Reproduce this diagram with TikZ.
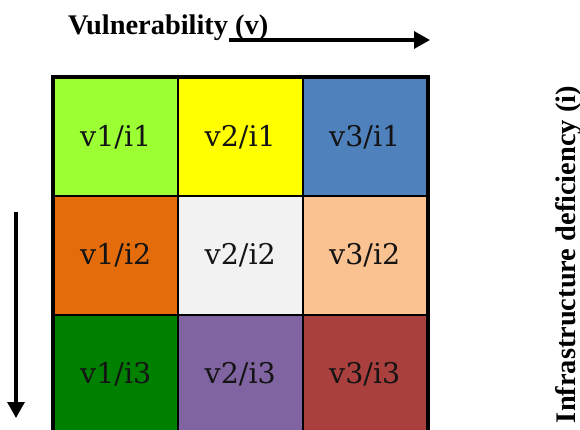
\documentclass[tikz,border=0pt]{standalone}
\usepackage{fontspec}
\setmainfont{DejaVu Serif}
\newfontfamily\labelfont{Liberation Serif}
\usetikzlibrary{arrows.meta}

\definecolor{cA}{HTML}{9BFF33}
\definecolor{cB}{HTML}{FFFF00}
\definecolor{cC}{HTML}{4F81BD}
\definecolor{cD}{HTML}{E46C0A}
\definecolor{cE}{HTML}{F2F2F2}
\definecolor{cF}{HTML}{FAC191}
\definecolor{cG}{HTML}{008000}
\definecolor{cH}{HTML}{8064A2}
\definecolor{cI}{HTML}{AA403D}

\tikzset{
  cell/.style={draw=black, line width=2pt, minimum width=124.5pt, minimum height=118.5pt,
               inner sep=0pt, font=\fontsize{28.5}{32}\selectfont, text=black!92},
  axislabel/.style={font=\labelfont\bfseries\fontsize{28.4}{32}\selectfont, inner sep=0pt},
  axisarrow/.style={line width=3.2pt, -{Triangle[length=16pt,width=17pt]}}
}

\begin{document}
\begin{tikzpicture}[x=1pt,y=-1pt]
  \useasboundingbox (0,0) rectangle (580,429);
  \fill[white] (0,0) rectangle (580,429);
  \begin{scope}
    \clip (0,0) rectangle (580,429);
    % 3 x 3 matrix of cells
    \node[cell, fill=cA] (c11) at (115.75,136.75) {v1/i1};
    \node[cell, fill=cB] (c21) at (240.25,136.75) {v2/i1};
    \node[cell, fill=cC] (c31) at (364.75,136.75) {v3/i1};
    \node[cell, fill=cD] (c12) at (115.75,255.5) {v1/i2};
    \node[cell, fill=cE] (c22) at (240.25,255.5) {v2/i2};
    \node[cell, fill=cF] (c32) at (364.75,255.5) {v3/i2};
    \node[cell, fill=cG] (c13) at (115.75,374) {v1/i3};
    \node[cell, fill=cH] (c23) at (240.25,374) {v2/i3};
    \node[cell, fill=cI] (c33) at (364.75,374) {v3/i3};
    % heavier outer frame
    \draw[line width=3pt] (c11.north west) rectangle (c33.south east);
  \end{scope}

  % horizontal axis
  \node[axislabel, anchor=base west] (vlab) at (68,34) {Vulnerability (v)};
  \coordinate (vs) at (229,40);
  \coordinate (ve) at (430,40);
  \draw[axisarrow] (vs) -- (ve);

  % vertical axis
  \coordinate (is) at (16,212);
  \coordinate (ie) at (16,418);
  \draw[axisarrow] (is) -- (ie);
  \node[axislabel, anchor=base, rotate=90] (ilab) at (575,254.5) {Infrastructure deficiency (i)};
\end{tikzpicture}
\end{document}
